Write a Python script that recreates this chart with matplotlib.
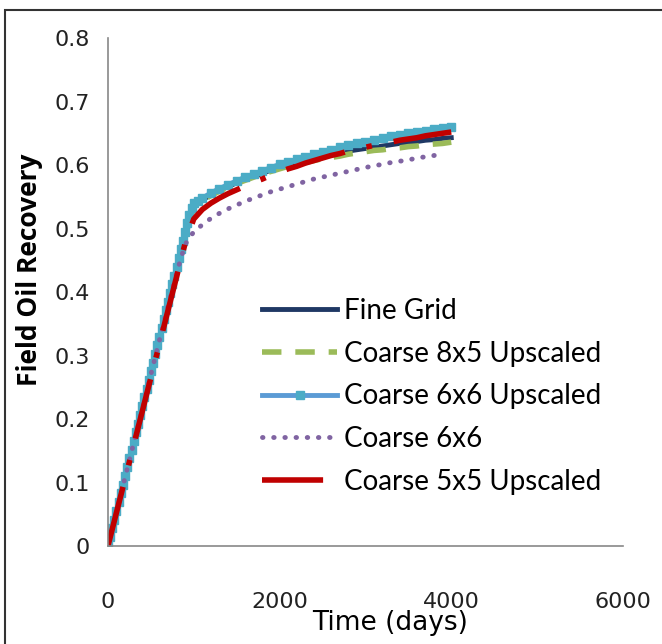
import numpy as np
import matplotlib
matplotlib.use("Agg")
import matplotlib.pyplot as plt
from matplotlib.patches import Rectangle

# time axis (days)
days = [0, 100, 200, 300, 400, 500, 600, 700, 800, 900, 1000,
        1100, 1200, 1300, 1400, 1500, 1600, 1700, 1800, 1900, 2000,
        2100, 2200, 2300, 2400, 2500, 2600, 2700, 2800, 2900, 3000,
        3100, 3200, 3300, 3400, 3500, 3600, 3700, 3800, 3900, 4000]

fine_grid = [0, 0.054, 0.108, 0.162, 0.216, 0.270, 0.324, 0.378, 0.432, 0.486, 0.535,
             0.545, 0.553, 0.560, 0.566, 0.572, 0.577, 0.582, 0.587, 0.592, 0.597,
             0.601, 0.605, 0.608, 0.611, 0.614, 0.617, 0.619, 0.622, 0.624, 0.626,
             0.628, 0.630, 0.632, 0.634, 0.636, 0.637, 0.639, 0.640, 0.642, 0.643]
coarse_8x5_up = [0, 0.054, 0.108, 0.162, 0.216, 0.270, 0.324, 0.378, 0.432, 0.486, 0.535,
                 0.544, 0.552, 0.559, 0.565, 0.571, 0.576, 0.581, 0.586, 0.590, 0.594,
                 0.598, 0.601, 0.604, 0.607, 0.610, 0.612, 0.614, 0.617, 0.619, 0.621,
                 0.623, 0.624, 0.626, 0.627, 0.629, 0.630, 0.632, 0.633, 0.634, 0.636]
coarse_6x6 = [0, 0.054, 0.108, 0.162, 0.216, 0.270, 0.324, 0.378, 0.430, 0.475, 0.495,
              0.506, 0.516, 0.524, 0.531, 0.537, 0.543, 0.548, 0.553, 0.558, 0.562,
              0.566, 0.570, 0.574, 0.578, 0.581, 0.584, 0.587, 0.590, 0.593, 0.596,
              0.599, 0.601, 0.604, 0.606, 0.608, 0.611, 0.613, 0.615, 0.619]
coarse_5x5_up = [0, 0.053, 0.106, 0.159, 0.212, 0.265, 0.318, 0.371, 0.424, 0.477, 0.515,
                 0.530, 0.540, 0.548, 0.555, 0.561, 0.567, 0.573, 0.578, 0.584, 0.589,
                 0.594, 0.598, 0.603, 0.607, 0.611, 0.615, 0.618, 0.622, 0.625, 0.628,
                 0.631, 0.634, 0.636, 0.639, 0.641, 0.643, 0.646, 0.648, 0.650, 0.652]

# the 6x6 upscaled run was reported more often during the early ramp
days_6x6_up = [0, 25, 50, 75, 100, 125, 150, 175, 200, 225, 250, 275, 300, 325, 350,
               375, 400, 425, 450, 475, 500, 525, 550, 575, 600, 625, 650, 675, 700,
               725, 750, 775, 800, 825, 850, 875, 900, 925, 950, 975, 1000, 1050,
               1100, 1200, 1300, 1400, 1500, 1600, 1700, 1800, 1900, 2000,
               2100, 2200, 2300, 2400, 2500, 2600, 2700, 2800, 2900, 3000,
               3100, 3200, 3300, 3400, 3500, 3600, 3700, 3800, 3900, 4000]
coarse_6x6_up = [0, 0.014, 0.028, 0.041, 0.055, 0.069, 0.083, 0.096, 0.110, 0.124,
                 0.138, 0.151, 0.165, 0.179, 0.193, 0.206, 0.220, 0.234, 0.248, 0.261,
                 0.275, 0.289, 0.303, 0.316, 0.330, 0.344, 0.358, 0.371, 0.385, 0.399,
                 0.413, 0.426, 0.440, 0.454, 0.468, 0.481, 0.495, 0.509, 0.522, 0.533,
                 0.540, 0.544, 0.548, 0.556, 0.563, 0.569, 0.575, 0.581, 0.586, 0.591,
                 0.596, 0.601, 0.605, 0.609, 0.613, 0.617, 0.621, 0.624, 0.628, 0.631,
                 0.634, 0.637, 0.640, 0.642, 0.645, 0.647, 0.650, 0.652, 0.654, 0.656,
                 0.658, 0.660]

labels = ["Fine Grid", "Coarse 8x5 Upscaled", "Coarse 6x6 Upscaled",
          "Coarse 6x6", "Coarse 5x5 Upscaled"]

fig = plt.figure(figsize=(6.62, 6.44), dpi=100)
ax = fig.add_axes([0.163, 0.152, 0.778, 0.789])

ax.plot(days, fine_grid, color="#1F3864", lw=3.5, label=labels[0])
ax.plot(days, coarse_8x5_up, color="#9BBB59", lw=4, linestyle=(0, (3.5, 2.5)),
        label=labels[1])
ax.plot(days_6x6_up, coarse_6x6_up, color="#5B9BD5", lw=3.5, marker="s", ms=6,
        mfc="#4BACC6", mec="#4BACC6", label=labels[2])
ax.plot(days[:len(coarse_6x6)], coarse_6x6, color="#8064A2", lw=3.5,
        linestyle=(0, (0.1, 2.2)), dash_capstyle="round", label=labels[3])
ax.plot(days, coarse_5x5_up, color="#C00000", lw=4, linestyle=(0, (11, 4, 1, 4)),
        label=labels[4])

ax.set_xlim(0, 6000)
ax.set_ylim(0, 0.8)
ax.set_xticks([0, 2000, 4000, 6000])
ax.set_yticks(np.arange(0, 0.81, 0.1))
ax.set_yticklabels(["0", "0.1", "0.2", "0.3", "0.4", "0.5", "0.6", "0.7", "0.8"])
for s in ["top", "right"]:
    ax.spines[s].set_visible(False)
for s in ["left", "bottom"]:
    ax.spines[s].set_color("#888888")
    ax.spines[s].set_linewidth(1.2)
ax.tick_params(length=0)
ax.tick_params(axis="x", pad=33)
ax.tick_params(axis="y", pad=13)
for t in ax.get_xticklabels() + ax.get_yticklabels():
    t.set_fontfamily("Liberation Sans Narrow")
    t.set_fontsize(16)
    t.set_color("#222222")

ax.set_xlabel("Time (days)", fontfamily="Liberation Sans Narrow", fontsize=19)
ax.xaxis.set_label_coords(0.548, -0.126)
ax.set_ylabel("Field Oil Recovery", fontfamily="Open Sans", fontweight="bold",
              fontsize=19)
ax.yaxis.set_label_coords(-0.126, 0.543)

leg = ax.legend(loc="lower right", bbox_to_anchor=(0.985, 0.074), frameon=False,
                prop={"family": "Lato", "size": 20}, handlelength=2.7,
                labelspacing=0.6, handletextpad=0.25, borderpad=0)

# outer frame of the chart
fig.patches.append(Rectangle((0.008, -0.05), 1.2, 1.035, transform=fig.transFigure,
                             fill=False, edgecolor="#333333", lw=1.5))

fig.savefig("out.png", dpi=100)
